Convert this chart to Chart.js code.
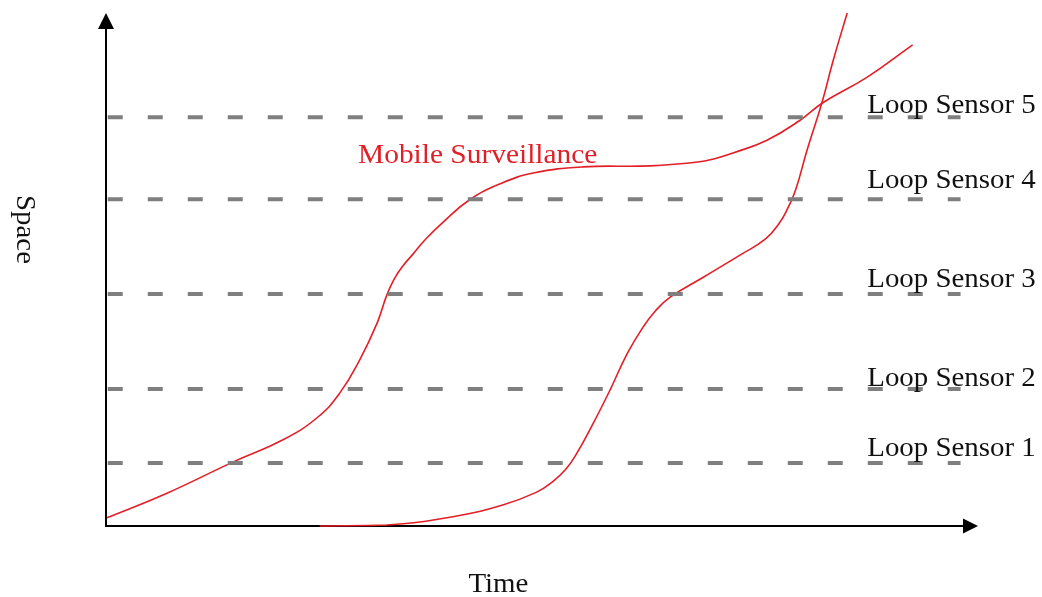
<!DOCTYPE html>
<html>
<head>
<meta charset="utf-8">
<script src="https://cdn.jsdelivr.net/npm/chart.js@4/dist/chart.umd.min.js"></script>
<style>
  html, body { margin: 0; padding: 0; background: #ffffff; }
  #wrap { width: 1042px; height: 597px; }
</style>
</head>
<body>
<div id="wrap"><canvas id="c" width="1042" height="597"></canvas></div>
<script>
// ---- data (time / space in arbitrary units 0..100) ----
const sensorNames = ["Loop Sensor 1", "Loop Sensor 2", "Loop Sensor 3", "Loop Sensor 4", "Loop Sensor 5"];
const sensorSpace = [12.3, 26.7, 45.2, 63.7, 79.7];
const sensorTimeRange = [0.2, 98];

const mobileTime  = [0.1, 7.0, 14.6, 20.3, 24.2, 26.8, 29.1, 31.1, 32.2, 33.0, 34.0, 35.2, 36.7, 38.7, 41.7, 45.2, 49.0, 54.7, 62.4, 68.1, 70.0, 71.9, 75.8, 79.6, 82.2, 87.3, 92.5];
const mobileSpace = [1.6, 6.4, 12.5, 16.8, 21.1, 25.9, 32.4, 39.6, 45.0, 48.0, 50.6, 53.0, 56.0, 59.3, 63.6, 66.7, 68.8, 70.0, 70.2, 71.0, 71.7, 72.7, 75.2, 79.1, 82.5, 87.5, 93.8];

const vehicleTime  = [24.5, 32.2, 39.8, 45.5, 49.4, 51.2, 52.7, 53.9, 55.9, 57.8, 59.8, 61.6, 63.0, 64.7, 68.5, 72.7, 75.6, 77.2, 78.2, 79.1, 80.4, 82.1, 83.4, 85.0];
const vehicleSpace = [0, 0.2, 1.8, 4.1, 6.6, 8.6, 11.0, 13.9, 20.1, 26.5, 33.7, 38.8, 41.9, 44.6, 48.5, 52.8, 55.9, 59.0, 62.0, 65.6, 73.3, 82.5, 90.8, 100];

const mobileLabel = "Mobile Surveillance";
const mobileLabelPos = [28.9, 70.8];
const xTitle = "Time";
const yTitle = "Space";

// ---- build datasets ----
const zip = (xs, ys) => xs.map((x, i) => ({ x: x, y: ys[i] }));
const datasets = [];
sensorSpace.forEach((s, i) => {
  datasets.push({
    label: sensorNames[i],
    data: [{ x: sensorTimeRange[0], y: s }, { x: sensorTimeRange[1], y: s }],
    borderColor: '#7f7f7f',
    borderWidth: 4,
    borderDash: [15, 25],
    pointRadius: 0,
    tension: 0,
    fill: false
  });
});
datasets.push({
  label: mobileLabel,
  data: zip(mobileTime, mobileSpace),
  borderColor: '#e31e26',
  borderWidth: 1.6,
  pointRadius: 0,
  tension: 0.45,
  fill: false,
  clip: false
});
datasets.push({
  label: 'Vehicle',
  data: zip(vehicleTime, vehicleSpace),
  borderColor: '#e31e26',
  borderWidth: 1.6,
  pointRadius: 0,
  tension: 0.45,
  fill: false,
  clip: false
});

const FONT = "'Liberation Serif', 'Times New Roman', serif";

const decor = {
  id: 'decor',
  beforeDatasetsDraw(chart) {
    const ctx = chart.ctx, a = chart.chartArea;
    ctx.save();
    ctx.strokeStyle = '#000';
    ctx.fillStyle = '#000';
    ctx.lineWidth = 2;
    ctx.beginPath();
    ctx.moveTo(a.left, a.bottom + 1);
    ctx.lineTo(a.left, a.top + 14);
    ctx.moveTo(a.left - 1, a.bottom);
    ctx.lineTo(a.right - 13, a.bottom);
    ctx.stroke();
    // arrowheads
    ctx.beginPath();
    ctx.moveTo(a.left, a.top);
    ctx.lineTo(a.left - 8, a.top + 16);
    ctx.lineTo(a.left + 8, a.top + 16);
    ctx.closePath();
    ctx.fill();
    ctx.beginPath();
    ctx.moveTo(a.right, a.bottom);
    ctx.lineTo(a.right - 15, a.bottom - 7.5);
    ctx.lineTo(a.right - 15, a.bottom + 7.5);
    ctx.closePath();
    ctx.fill();
    ctx.restore();
  },
  afterDatasetsDraw(chart) {
    const ctx = chart.ctx, a = chart.chartArea;
    const xs = chart.scales.x, ys = chart.scales.y;
    const sx = 1.07;
    const drawText = (txt, x, y, color, size, align) => {
      ctx.save();
      ctx.font = size + 'px ' + FONT;
      ctx.fillStyle = color;
      ctx.textBaseline = 'alphabetic';
      ctx.translate(x, y);
      ctx.scale(sx, 1);
      ctx.textAlign = align || 'left';
      ctx.fillText(txt, 0, 0);
      ctx.restore();
    };
    const offs = [7, 3, 7, 11, 4];
    sensorSpace.forEach((s, i) => {
      drawText(sensorNames[i], xs.getPixelForValue(87.3), ys.getPixelForValue(s) - offs[i], '#111', 27);
    });
    drawText(mobileLabel, xs.getPixelForValue(mobileLabelPos[0]), ys.getPixelForValue(mobileLabelPos[1]), '#e02028', 27.5);
    drawText(xTitle, xs.getPixelForValue(45), a.bottom + 66, '#111', 27, 'center');
    // rotated y title
    ctx.save();
    ctx.font = '27px ' + FONT;
    ctx.fillStyle = '#111';
    ctx.translate(15, (a.top + a.bottom) / 2 - 40);
    ctx.rotate(Math.PI / 2);
    ctx.scale(sx, 1);
    ctx.textAlign = 'center';
    ctx.textBaseline = 'middle';
    ctx.fillText(yTitle, 0, -9);
    ctx.restore();
  }
};

new Chart(document.getElementById('c'), {
  type: 'line',
  data: { datasets: datasets },
  options: {
    responsive: false,
    animation: false,
    events: [],
    layout: { padding: { left: 106, right: 64, top: 13, bottom: 71 } },
    scales: {
      x: { type: 'linear', min: 0, max: 100, display: false },
      y: { type: 'linear', min: 0, max: 100, display: false }
    },
    plugins: { legend: { display: false }, tooltip: { enabled: false } }
  },
  plugins: [decor]
});
</script>
</body>
</html>
